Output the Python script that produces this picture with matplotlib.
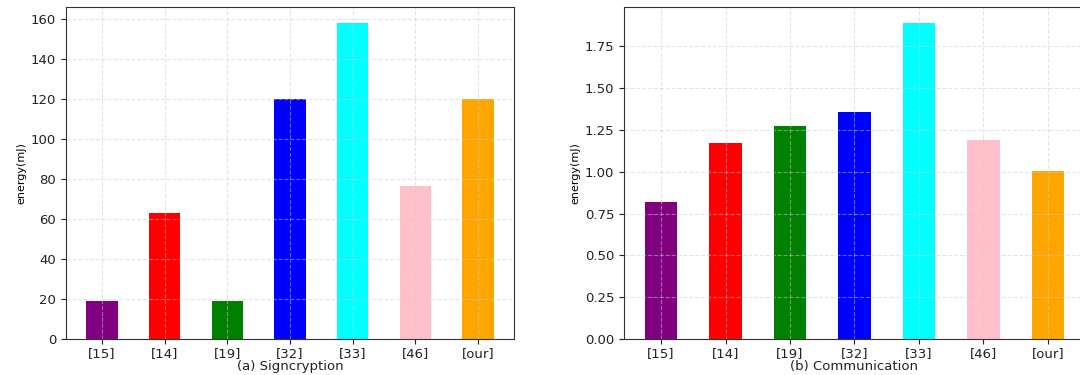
import matplotlib
matplotlib.use("Agg")
import matplotlib.pyplot as plt

schemes = ["[15]", "[14]", "[19]", "[32]", "[33]", "[46]", "[our]"]
bar_colors = ["purple", "red", "green", "blue", "cyan", "pink", "orange"]
signcryption_energy = [19, 63, 19, 120, 158, 76.5, 120]
communication_energy = [0.82, 1.17, 1.275, 1.355, 1.89, 1.19, 1.005]

fig = plt.figure(figsize=(10.8, 3.75), dpi=100)
ax1 = fig.add_axes([66 / 1080, 1 - 339 / 375, 448 / 1080, 332 / 375])
ax2 = fig.add_axes([624 / 1080, 1 - 339 / 375, 461 / 1080, 332 / 375])

panels = [(ax1, signcryption_energy, "(a) Signcryption"),
          (ax2, communication_energy, "(b) Communication")]

for ax, values, title in panels:
    ax.bar(range(len(schemes)), values, width=0.5, color=bar_colors)
    ax.set_xticks(range(len(schemes)))
    ax.set_xticklabels(schemes)
    ax.grid(True, ls="--", color="#cccccc", alpha=0.5, lw=0.8)
    ax.tick_params(labelsize=9.5, colors="#222222", length=3.5)
    ax.tick_params(axis="x", pad=2)
    for s in ax.spines.values():
        s.set_color("#333333")
    ax.set_xlabel(title, fontsize=9.5, labelpad=0, color="#222222")
    ax.set_ylabel("energy(mJ)", fontsize=8, labelpad=3)

ax2.set_yticks([0, 0.25, 0.5, 0.75, 1.0, 1.25, 1.5, 1.75])
ax2.set_yticklabels(["0.00", "0.25", "0.50", "0.75", "1.00", "1.25", "1.50", "1.75"])

fig.savefig("out.png", dpi=100)
